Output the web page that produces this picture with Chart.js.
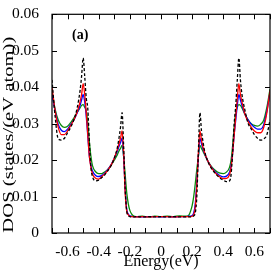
<!DOCTYPE html>
<html>
<head>
<meta charset="utf-8">
<script src="https://cdn.jsdelivr.net/npm/chart.js@4.4.1/dist/chart.umd.min.js"></script>
<style>
  html, body { margin: 0; padding: 0; background: #fff; }
  #wrap { width: 273px; height: 273px; position: relative; }
</style>
</head>
<body>
<div id="wrap"><canvas id="dosChart" width="273" height="273"></canvas></div>
<script>
// Energy grid (eV) shared by all curves
const energy = [
  -0.70, -0.68, -0.66, -0.64, -0.62, -0.60, -0.58, -0.56, -0.54, -0.52, -0.51, -0.50, -0.49, -0.48, -0.47, -0.46, -0.45, -0.44,
  -0.42, -0.40, -0.38, -0.36, -0.34, -0.32, -0.30, -0.28, -0.27, -0.26, -0.25, -0.24, -0.23, -0.22, -0.21, -0.20, -0.19, -0.18,
  -0.16, -0.12, -0.08, -0.04, 0.00,
  0.04, 0.08, 0.12, 0.16, 0.18, 0.19, 0.20, 0.21, 0.22, 0.23, 0.24, 0.25, 0.26, 0.27, 0.28, 0.30, 0.32, 0.34, 0.36, 0.38, 0.40,
  0.42, 0.44, 0.45, 0.46, 0.47, 0.48, 0.49, 0.50, 0.51, 0.52, 0.54, 0.56, 0.58, 0.60, 0.62, 0.64, 0.66, 0.68, 0.70
];

// DOS values, states/(eV atom)
const dosBlack = [
  0.042, 0.032, 0.0258, 0.0255, 0.026, 0.0275, 0.029, 0.031, 0.034, 0.039, 0.043, 0.048, 0.043, 0.037, 0.034, 0.025, 0.018, 0.0155,
  0.0143, 0.0145, 0.0152, 0.016, 0.0172, 0.0185, 0.0205, 0.0235, 0.026, 0.029, 0.033, 0.024, 0.012, 0.006, 0.0048, 0.0045, 0.0044, 0.0044,
  0.0045, 0.0044, 0.0045, 0.0044, 0.0045,
  0.0044, 0.0045, 0.0044, 0.0044, 0.0044, 0.0044, 0.0045, 0.0047, 0.0055, 0.010, 0.022, 0.033, 0.028, 0.025, 0.0225, 0.0197, 0.018, 0.0168, 0.0158, 0.015, 0.0145,
  0.0141, 0.0143, 0.016, 0.022, 0.030, 0.035, 0.042, 0.048, 0.042, 0.038, 0.0335, 0.030, 0.0285, 0.027, 0.026, 0.0255, 0.0258, 0.027, 0.031
];
const dosRed = [
  0.040, 0.0335, 0.029, 0.027, 0.027, 0.028, 0.0295, 0.031, 0.033, 0.036, 0.038, 0.041, 0.038, 0.033, 0.027, 0.021, 0.018, 0.0162,
  0.015, 0.0148, 0.0155, 0.0163, 0.0173, 0.0187, 0.0205, 0.023, 0.0245, 0.026, 0.028, 0.022, 0.011, 0.006, 0.005, 0.0046, 0.0045, 0.0045,
  0.0044, 0.0045, 0.0044, 0.0045, 0.0045,
  0.0045, 0.0044, 0.0045, 0.0045, 0.0045, 0.0045, 0.0046, 0.005, 0.007, 0.013, 0.022, 0.028, 0.0255, 0.0235, 0.022, 0.0198, 0.0182, 0.017, 0.016, 0.0153, 0.0149,
  0.015, 0.016, 0.018, 0.022, 0.027, 0.032, 0.037, 0.041, 0.038, 0.036, 0.0325, 0.0305, 0.029, 0.028, 0.0275, 0.0275, 0.029, 0.033, 0.039
];
const dosBlue = [
  0.038, 0.0335, 0.0298, 0.0282, 0.0278, 0.0285, 0.0298, 0.031, 0.0328, 0.035, 0.0365, 0.038, 0.036, 0.032, 0.0265, 0.021, 0.0185, 0.017,
  0.0158, 0.0155, 0.0158, 0.0165, 0.0175, 0.0188, 0.0205, 0.0225, 0.0237, 0.0248, 0.026, 0.021, 0.012, 0.0065, 0.0052, 0.0047, 0.0046, 0.0045,
  0.0045, 0.0044, 0.0045, 0.0045, 0.0044,
  0.0045, 0.0044, 0.0045, 0.0045, 0.0046, 0.0046, 0.0048, 0.0055, 0.008, 0.014, 0.021, 0.026, 0.0245, 0.023, 0.0218, 0.0198, 0.0183, 0.0172, 0.0163, 0.0157, 0.0154,
  0.0156, 0.0167, 0.0185, 0.022, 0.027, 0.031, 0.035, 0.038, 0.0365, 0.035, 0.0325, 0.031, 0.0298, 0.029, 0.0285, 0.0285, 0.0298, 0.0335, 0.0385
];
const dosGreen = [
  0.0385, 0.034, 0.031, 0.0295, 0.029, 0.0293, 0.0303, 0.0315, 0.033, 0.0343, 0.035, 0.0352, 0.0345, 0.0335, 0.030, 0.025, 0.021, 0.0185,
  0.0168, 0.0163, 0.0163, 0.0168, 0.0175, 0.0186, 0.020, 0.0215, 0.0225, 0.0232, 0.024, 0.021, 0.016, 0.011, 0.008, 0.0062, 0.0053, 0.0048,
  0.0045, 0.0046, 0.0044, 0.0046, 0.0045,
  0.0046, 0.0045, 0.0047, 0.0046, 0.005, 0.006, 0.0075, 0.010, 0.0135, 0.0175, 0.021, 0.024, 0.0232, 0.0224, 0.0215, 0.0198, 0.0185, 0.0175, 0.0168, 0.0164, 0.0163,
  0.0167, 0.018, 0.020, 0.024, 0.029, 0.033, 0.0345, 0.0352, 0.035, 0.0343, 0.0325, 0.031, 0.030, 0.0295, 0.0293, 0.0298, 0.031, 0.0345, 0.0395
];

// Axis labels shown on the ticks
const xTickLabels = ['-0.6', '-0.4', '-0.2', '0', '0.2', '0.4', '0.6'];
const yTickLabels = ['0', '0.01', '0.02', '0.03', '0.04', '0.05', '0.06'];
const yTitle = 'DOS (states/(eV atom))';

const toPoints = vals => vals.map((v, i) => ({ x: energy[i], y: v }));
const serif = '"Liberation Serif", "DejaVu Serif", serif';

// Frame, inward tick marks, the y title and the "(a)" tag
const framePlugin = {
    id: 'frame',
    afterDraw(chart) {
        const { ctx, chartArea: a, scales } = chart;
        ctx.save();
        ctx.strokeStyle = '#000';
        ctx.lineWidth = 1;
        ctx.beginPath();
        scales.x.ticks.forEach(t => {
            const px = Math.round(scales.x.getPixelForValue(t.value)) + 0.5;
            ctx.moveTo(px, a.bottom); ctx.lineTo(px, a.bottom - 5);
            ctx.moveTo(px, a.top); ctx.lineTo(px, a.top + 5);
        });
        scales.y.ticks.forEach(t => {
            const py = Math.round(scales.y.getPixelForValue(t.value)) + 0.5;
            ctx.moveTo(a.left, py); ctx.lineTo(a.left + 5, py);
            ctx.moveTo(a.right, py); ctx.lineTo(a.right - 5, py);
        });
        ctx.stroke();
        ctx.lineWidth = 1.2;
        ctx.strokeRect(a.left, a.top, a.right - a.left, a.bottom - a.top);
        ctx.fillStyle = '#000';
        ctx.font = 'bold 14px ' + serif;
        ctx.textBaseline = 'middle';
        ctx.textAlign = 'left';
        ctx.fillText('(a)', a.left + 20, a.top + 21);

        // y title: the reference draws it long and narrow, so stretch it along its length
        ctx.font = '15px ' + serif;
        const w = ctx.measureText(yTitle).width;
        const target = 196;
        ctx.translate(9, (a.top + a.bottom) / 2 + 11);
        ctx.rotate(-Math.PI / 2);
        ctx.scale(target / w, 1);
        ctx.textAlign = 'center';
        ctx.textBaseline = 'middle';
        ctx.fillText(yTitle, 0, 0);
        ctx.restore();
    }
};

const lineStyle = (label, color, vals, dash) => ({
    label: label,
    data: toPoints(vals),
    borderColor: color,
    borderWidth: 1.3,
    borderDash: dash || [],
    pointRadius: 0,
    fill: false,
    cubicInterpolationMode: 'monotone'
});

new Chart(document.getElementById('dosChart').getContext('2d'), {
    type: 'line',
    data: {
        datasets: [
            lineStyle('black', '#000000', dosBlack, [3, 2]),
            lineStyle('red', '#ff0000', dosRed),
            lineStyle('blue', '#0000ff', dosBlue),
            lineStyle('green', '#0a8a0a', dosGreen)
        ]
    },
    options: {
        responsive: false,
        animation: false,
        layout: { padding: { top: 7, right: 3, left: 0, bottom: 0 } },
        plugins: { legend: { display: false }, tooltip: { enabled: false } },
        scales: {
            x: {
                type: 'linear',
                min: -0.7,
                max: 0.7,
                grid: { display: false },
                border: { display: false },
                afterFit: s => { s.height = 40; },
                ticks: {
                    stepSize: 0.1,
                    autoSkip: false,
                    maxRotation: 0,
                    padding: 3,
                    color: '#000',
                    font: { family: serif, size: 15.5, lineHeight: 1 },
                    callback: v => {
                        const k = Math.round(v * 10);
                        if (k % 2 !== 0 || Math.abs(k) > 6) return '';
                        return xTickLabels[k / 2 + 3];
                    }
                },
                title: {
                    display: true,
                    text: 'Energy(eV)',
                    color: '#000',
                    font: { family: serif, size: 16, lineHeight: 1 },
                    padding: { top: 0, bottom: 3 }
                }
            },
            y: {
                min: 0,
                max: 0.06,
                grid: { display: false },
                border: { display: false },
                afterFit: s => { s.width = 52; },
                ticks: {
                    stepSize: 0.01,
                    padding: 5,
                    color: '#000',
                    font: { family: serif, size: 15.5 },
                    callback: v => yTickLabels[Math.round(v * 100)]
                },
                title: { display: false }
            }
        }
    },
    plugins: [framePlugin]
});
</script>
</body>
</html>
